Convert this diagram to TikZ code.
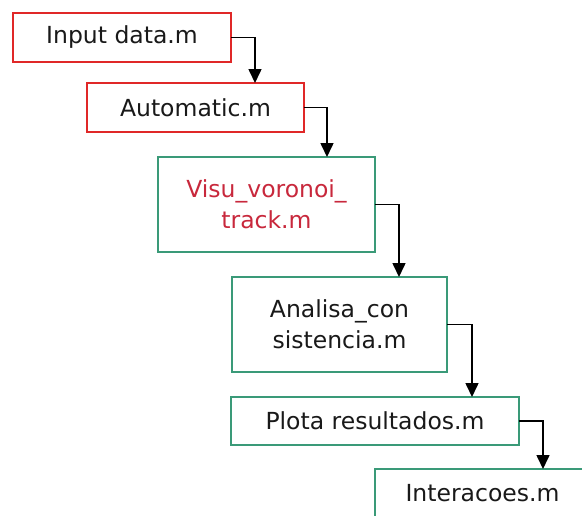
\documentclass[tikz,border=0pt]{standalone}
\usepackage{fontspec}
\setmainfont{DejaVu Sans}
\usetikzlibrary{positioning,arrows.meta}
\definecolor{boxred}{HTML}{E02828}
\definecolor{boxgreen}{HTML}{3A9A78}
\definecolor{textred}{HTML}{C8283C}

\begin{document}
\begin{tikzpicture}[x=1pt, y=1pt, >={Triangle[width=13pt,length=14pt]},
    file/.style = {draw, line width=2.6pt, outer sep=0pt, inner sep=0pt, align=center,
                   text=black!90, font=\fontsize{23.5}{31}\selectfont},
    redfile/.style = {file, draw=boxred},
    greenfile/.style = {file, draw=boxgreen}]
		\useasboundingbox (0,0) rectangle (582,-515);
		\clip (0,0) rectangle (582,-515);
		\node[redfile, minimum width=218pt, minimum height=49pt, anchor=north west] (inp) at (13,-13) {Input data.m};
		\node[redfile, minimum width=217pt, minimum height=49pt] (aut) [below right=21pt and -144pt of inp] {Automatic.m};
		\node[greenfile, minimum width=217pt, minimum height=95pt, text=textred] (vis) [below right=25pt and -146pt of aut] {Visu\_voronoi\_\\track.m};
		\node[greenfile, minimum width=215pt, minimum height=95pt] (ana) [below right=25pt and -143pt of vis] {Analisa\_con\\sistencia.m};
		\node[greenfile, minimum width=288pt, minimum height=48pt] (plo) [below right=25pt and -216pt of ana] {Plota resultados.m};
		\node[greenfile, minimum width=215pt, minimum height=48pt] (int) [below right=24pt and -144pt of plo] {Interacoes.m};
		\draw[->, line width=1.6pt] (inp.east) -| ([xshift=168pt]aut.north west);
		\draw[->, line width=1.6pt] (aut.east) -| ([xshift=169pt]vis.north west);
		\draw[->, line width=1.6pt] (vis.east) -| ([xshift=167pt]ana.north west);
		\draw[->, line width=1.6pt] (ana.east) -| ([xshift=241pt]plo.north west);
		\draw[->, line width=1.6pt] (plo.east) -| ([xshift=168pt]int.north west);
	\end{tikzpicture}
\end{document}
